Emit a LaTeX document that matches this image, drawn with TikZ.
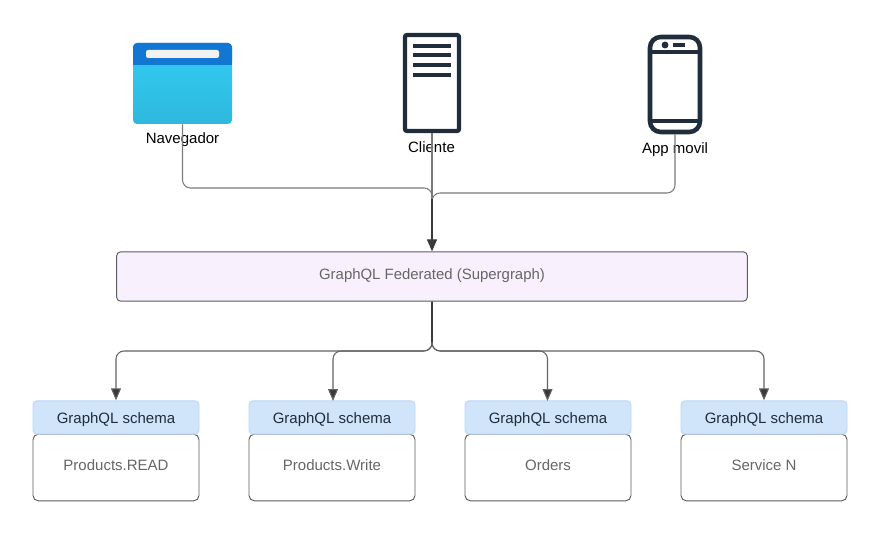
\documentclass[tikz,border=0pt]{standalone}
\usepackage{fontspec}
\setmainfont{Liberation Sans}
\usepackage{xcolor}
\usetikzlibrary{arrows.meta}
\definecolor{icondark}{HTML}{1F2D3D}
\definecolor{linkgray}{HTML}{7A7A7A}
\definecolor{busgray}{HTML}{636363}
\definecolor{boxline}{HTML}{5C5C5C}
\definecolor{arrowdark}{HTML}{3A3A3A}
\definecolor{textgray}{HTML}{666666}
\definecolor{superfill}{HTML}{F9F0FD}
\definecolor{headfill}{HTML}{D0E4FA}
\definecolor{headline}{HTML}{BCD7F5}
\definecolor{browsertop}{HTML}{1277D2}
\definecolor{browserhigh}{HTML}{32CDF2}
\definecolor{browserlow}{HTML}{2FB8DE}
\tikzset{
  clientlabel/.style={font=\fontsize{11.25pt}{13pt}\selectfont,text=black,inner sep=0pt},
  link/.style={draw=linkgray,line width=0.8pt,rounded corners=6pt},
  linkarrow/.style={link,draw=arrowdark,-{Triangle[length=9pt,width=7.5pt,fill=arrowdark]}},
  busarrow/.style={linkarrow,draw=busgray},
  super/.style={draw=boxline,line width=0.7pt,fill=superfill,rounded corners=3pt,inner sep=0pt,
    minimum width=473pt,minimum height=37pt,text=textgray,text height=8.2pt,text depth=3.2pt,
    font=\fontsize{11.2pt}{13pt}\selectfont},
  schemahead/.style={draw=headline,line width=0.7pt,fill=headfill,rounded corners=3pt,inner sep=0pt,
    minimum width=124.5pt,minimum height=25pt,text=icondark,text height=8.8pt,text depth=0pt,
    font=\fontsize{11.25pt}{13pt}\selectfont},
  schemabody/.style={draw=boxline,line width=0.7pt,fill=white,rounded corners=4pt,inner sep=0pt,
    minimum width=124.5pt,minimum height=50pt,text=textgray,text height=8.2pt,text depth=3pt,
    font=\fontsize{11.25pt}{13pt}\selectfont},
}
\begin{document}
\begin{tikzpicture}[x=0.75pt,y=-0.75pt]
  \useasboundingbox (0,0) rectangle (880,534);
  % client icons
  \node[inner sep=0pt,minimum width=74.25pt,minimum height=60.75pt,rounded corners=3pt,
    top color=browserhigh,bottom color=browserlow] (nav) at (182.5,83.5) {};
  \fill[browsertop,rounded corners=3pt] (133,65) -- (133,43) -- (232,43) -- (232,65) -- cycle;
  \fill[browsertop] (133,58) rectangle (232,65);
  \fill[black!5,rounded corners=1.5pt] (146,50) rectangle (219,58);
  \node[draw=icondark,line width=3.2pt,rounded corners=1.5pt,inner sep=0pt,
    minimum width=40.5pt,minimum height=72pt] (cli) at (432,83) {};
  \foreach \y in {46,55.5,65,75}
    \draw[icondark,line width=3pt] (413,\y) -- (451,\y);
  \node[draw=icondark,line width=3.4pt,rounded corners=8pt,inner sep=0pt,
    minimum width=37.5pt,minimum height=71.25pt] (app) at (675,84.5) {};
  \draw[icondark,line width=2.4pt] (650,52) -- (700,52);
  \draw[icondark,line width=3pt] (650,121) -- (700,121);
  \fill[icondark] (665,45) circle (2.6pt);
  \fill[icondark] (673,43) rectangle (685,47);
  \node[clientlabel] (navl) at (182.5,140) {Navegador};
  \node[clientlabel] (clil) at (431.5,147) {Cliente};
  \node[clientlabel] (appl) at (675,150) {App movil};
  % boxes
  \node[super] (fed) at (432,276.5) {GraphQL Federated (Supergraph)};
  \node[schemabody] (body1) at (116,467.5) {Products.READ};
  \node[schemabody] (body2) at (332,467.5) {Products.Write};
  \node[schemabody] (body3) at (548,467.5) {Orders};
  \node[schemabody] (body4) at (764,467.5) {Service N};
  \node[schemahead] (head1) at (116,417.5) {GraphQL schema};
  \node[schemahead] (head2) at (332,417.5) {GraphQL schema};
  \node[schemahead] (head3) at (548,417.5) {GraphQL schema};
  \node[schemahead] (head4) at (764,417.5) {GraphQL schema};
  % connectors
  \coordinate (navbend) at (432,188);
  \coordinate (appbend) at (432,193);
  \coordinate (topjoin) at (432,199);
  \coordinate (busjoin) at (432,351);
  \draw[link] (nav.south) -- (nav.south |- navbend) -- (navbend) -- (topjoin);
  \draw[link] (app.south) -- (app.south |- appbend) -- (appbend) -- (topjoin);
  \draw[link] (cli.south) -- (topjoin);
  \draw[linkarrow] (topjoin) -- (topjoin |- fed.north);
  \draw[busarrow] (fed.south) -- (busjoin) -- (head1.north |- busjoin) -- (head1.north);
  \draw[busarrow] (fed.south) -- (busjoin) -- (333,351) -- (333,401);
  \draw[busarrow] (fed.south) -- (busjoin) -- (547.5,351) -- (547.5,401);
  \draw[busarrow] (fed.south) -- (busjoin) -- (head4.north |- busjoin) -- (head4.north);
  \draw[arrowdark,line width=0.8pt] (fed.south) -- ++(0,40);
\end{tikzpicture}
\end{document}
